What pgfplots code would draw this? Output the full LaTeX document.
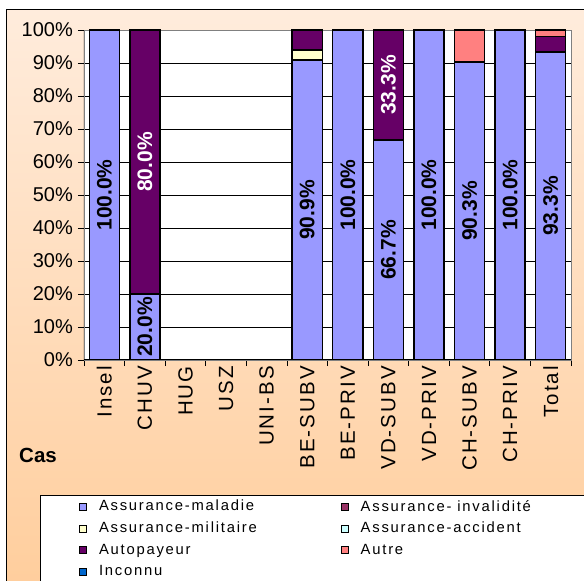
\documentclass[border=0pt]{standalone}
\usepackage{fontspec}
\setmainfont{Liberation Sans}
\newfontfamily\legfont[LetterSpace=12]{Liberation Sans}
\newfontfamily\catfont[LetterSpace=10]{Liberation Sans}
\usepackage{pgfplots}
\usepackage{pgfplotstable}
\pgfplotsset{compat=1.18}

\definecolor{cMal}{HTML}{9999FF}
\definecolor{cInv}{HTML}{993366}
\definecolor{cMil}{HTML}{FFFFCC}
\definecolor{cAcc}{HTML}{CCFFFF}
\definecolor{cAuto}{HTML}{660066}
\definecolor{cAutre}{HTML}{FF8080}
\definecolor{cInc}{HTML}{0066CC}
\definecolor{bgTop}{RGB}{255,236,220}
\definecolor{bgBot}{RGB}{255,204,153}

% x: Insel CHUV HUG USZ UNI-BS BE-SUBV BE-PRIV VD-SUBV VD-PRIV CH-SUBV CH-PRIV Total
\pgfplotstableread{
x  mal  inv mil acc auto autre inc
0  100  0   0   0   0    0     0
1  20   0   0   0   80   0     0
2  0    0   0   0   0    0     0
3  0    0   0   0   0    0     0
4  0    0   0   0   0    0     0
5  90.9 0   3.0 0   6.1  0     0
6  100  0   0   0   0    0     0
7  66.7 0   0   0   33.3 0     0
8  100  0   0   0   0    0     0
9  90.3 0   0   0   0    9.7   0
10 100  0   0   0   0    0     0
11 93.3 0   0   0   4.8  1.9   0
}\cases

% value labels, centred in their segment
\pgfplotstableread{
x  y      lab
0  50     100.0
1  10     20.0
5  45.45  90.9
6  50     100.0
7  33.35  66.7
8  50     100.0
9  45.15  90.3
10 50     100.0
11 46.65  93.3
}\labsdark
\pgfplotstableread{
x  y      lab
1  60     80.0
7  83.35  33.3
}\labslight

\pgfplotsset{
  frame/.style={at={(84pt,221pt)}, anchor=south west,
    scale only axis, width=487pt, height=330pt,
    xmin=-0.5, xmax=11.5, ymin=0, ymax=100},
  barlab/.style={only marks, mark=*, mark size=0pt,
    nodes near coords={\pgfplotspointmeta\%}, point meta=explicit symbolic,
    every node near coord/.style={rotate=90, anchor=center, inner sep=0pt,
      font=\bfseries\fontsize{21}{24}\selectfont, #1}},
}

\begin{document}
\begin{tikzpicture}
\useasboundingbox (0pt,0pt) rectangle (584pt,581pt);
\clip (0pt,0pt) rectangle (584pt,581pt);
\shadedraw[top color=bgTop, bottom color=bgBot, draw=black, line width=1pt] (6pt,-40pt) rectangle (620pt,571pt);
\draw[fill=white, draw=black, line width=0.8pt] (40pt,-30pt) rectangle (630pt,86pt);
\node[anchor=base west, inner sep=0pt, font=\bfseries\fontsize{20.5}{24}\selectfont] at (19pt,118pt) {Cas};

\begin{axis}[
  frame,
  ybar stacked, bar width=0.74,
  axis background/.style={fill=white},
  axis line style={draw=gray, line width=0.8pt},
  xtick={-0.5,0.5,...,11.5}, xticklabels={},
  extra x ticks={0,...,11},
  extra x tick labels={Insel,CHUV,HUG,USZ,UNI-BS,BE-SUBV,BE-PRIV,VD-SUBV,VD-PRIV,CH-SUBV,CH-PRIV,Total},
  extra x tick style={major tick length=0pt,
    xticklabel style={yshift=-6pt, rotate=90, anchor=east, inner sep=0pt, font=\catfont\fontsize{20.5}{24}\selectfont}},
  ytick={0,10,...,100},
  yticklabel={\pgfmathprintnumber{\tick}\%},
  /pgf/number format/assume math mode=true,
  yticklabel style={inner sep=0pt, xshift=-5pt, font=\fontsize{20}{23}\selectfont},
  tick align=outside, major tick length=6pt,
  xtick pos=bottom, ytick pos=left,
  tick style={black, line width=0.8pt},
  ymajorgrids, major grid style={black, line width=0.8pt},
  legend columns=2,
  legend cell align=left,
  legend image code/.code={\draw[#1, draw=black, line width=0.7pt] (0pt,-3.5pt) rectangle (7pt,3.5pt);},
  legend style={at={(-0.0162,-0.412)}, anchor=north west, draw=none, fill=none,
    font=\legfont\fontsize{14.8}{17}\selectfont, row sep=5.7pt,
    /tikz/every odd column/.append style={column sep=10pt}},
]
\addplot[fill=cMal, draw=black, line width=1.4pt] table[x=x, y=mal] {\cases};
\addlegendentry{\makebox[240pt][l]{Assurance-maladie}}
\addplot[fill=cInv, draw=black, line width=1.4pt] table[x=x, y=inv] {\cases};
\addlegendentry{Assurance- invalidité}
\addplot[fill=cMil, draw=black, line width=1.4pt] table[x=x, y=mil] {\cases};
\addlegendentry{\makebox[240pt][l]{Assurance-militaire}}
\addplot[fill=cAcc, draw=black, line width=1.4pt] table[x=x, y=acc] {\cases};
\addlegendentry{Assurance-accident}
\addplot[fill=cAuto, draw=black, line width=1.4pt] table[x=x, y=auto] {\cases};
\addlegendentry{\makebox[240pt][l]{Autopayeur}}
\addplot[fill=cAutre, draw=black, line width=1.4pt] table[x=x, y=autre] {\cases};
\addlegendentry{Autre}
\addplot[fill=cInc, draw=black, line width=1.4pt] table[x=x, y=inc] {\cases};
\addlegendentry{\makebox[240pt][l]{Inconnu}}

\draw[black, line width=1pt] (rel axis cs:0,0) -- (rel axis cs:0,1);
\draw[black, line width=1pt] (rel axis cs:0,0) -- (rel axis cs:1,0);
\end{axis}

\begin{axis}[frame, hide axis, clip=false]
\addplot[barlab=black] table[x=x, y=y, meta=lab] {\labsdark};
\addplot[barlab=white] table[x=x, y=y, meta=lab] {\labslight};
\end{axis}
\end{tikzpicture}
\end{document}
